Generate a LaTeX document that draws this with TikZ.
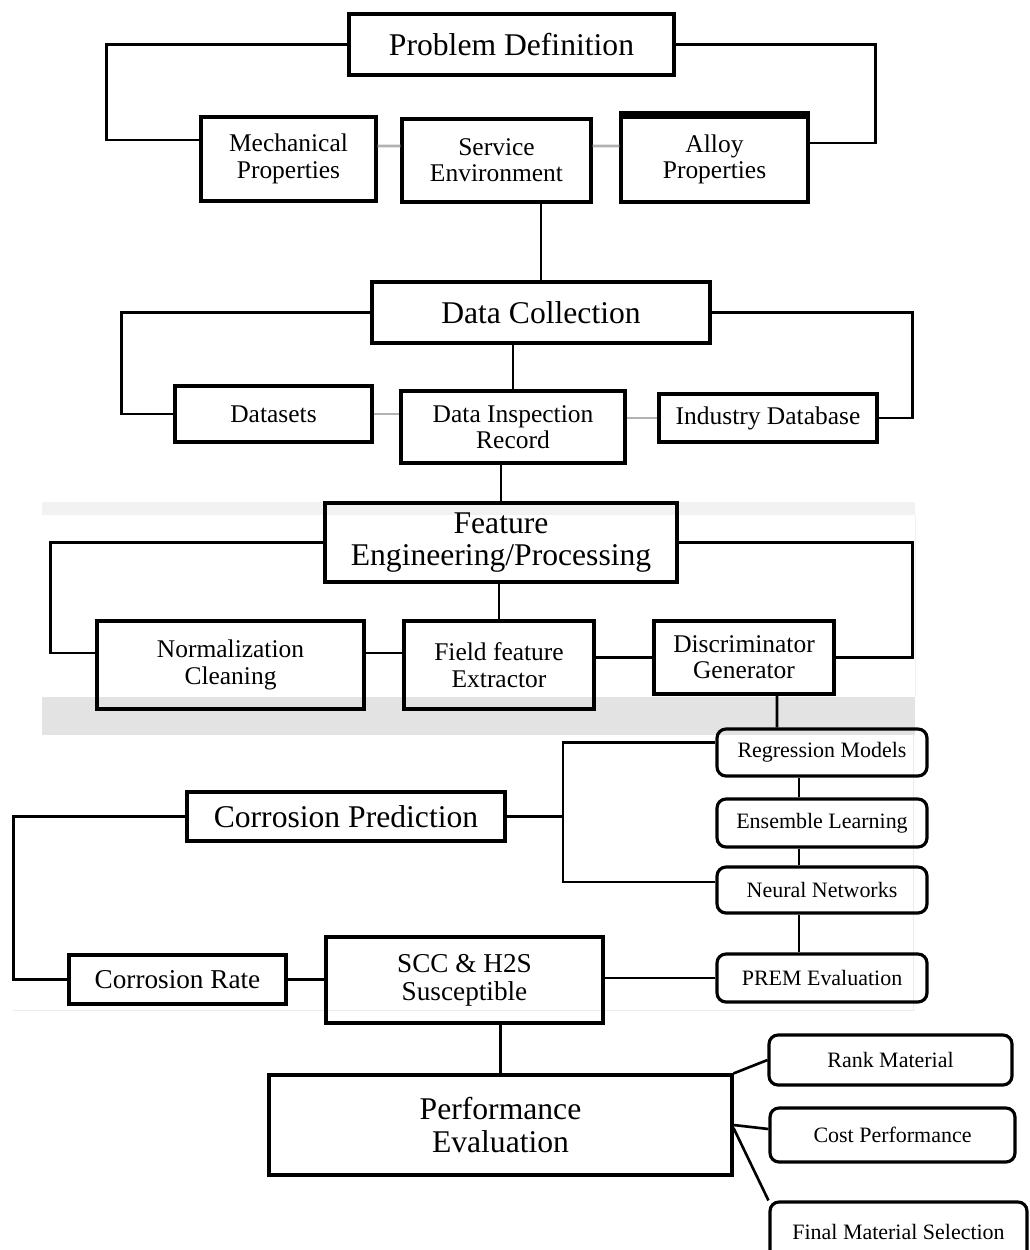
\documentclass[tikz,border=0pt]{standalone}
\usepackage{fontspec}
\setmainfont{Liberation Serif}
\tikzset{
  blk/.style={draw, line width=1.8pt, inner sep=0pt, align=center},
  bigtxt/.style={blk, font=\fontsize{18}{18.5}\selectfont},
  midtxt/.style={blk, font=\fontsize{14.5}{15}\selectfont},
  smalltxt/.style={blk, rounded corners=0.18cm, font=\fontsize{12.5}{12}\selectfont},
  link/.style={line width=1.5pt},
  faint/.style={line width=1.5pt, black!30},
}

\begin{document}
\begin{tikzpicture}[x=0.02cm, y=-0.02cm] % {{{
\useasboundingbox (0,0) rectangle (1029,1250);
% background bands {{{
\fill[black!5] (42,502) rectangle (915,515);
\fill[black!11] (42,697) rectangle (915,735);
\draw[black!6] (915,515) -- (915,697);
\draw[black!8] (13,1010) -- (913,1010) -- (913,735);
% }}}
% Problem definition {{{
\node[bigtxt, minimum width=6.5cm, minimum height=1.22cm] (prob) at (511.5,44.5) {Problem Definition};
\node[midtxt, minimum width=3.5cm, minimum height=1.68cm] (mech) at (288.5,159) {Mechanical\\Properties};
\node[midtxt, minimum width=3.78cm, minimum height=1.66cm] (serv) at (496.5,160.5) {Service\\Environment};
\node[midtxt, minimum width=3.74cm, minimum height=1.7cm] (alloy) at (714.5,159.5) {Alloy\\Properties};
\draw[line width=3.5pt] ([yshift=1pt]alloy.north west) -- ([yshift=1pt]alloy.north east);
\draw[link] (prob.west) -- ++(-241,0) |- ([yshift=0.38cm]mech.west);
\draw[link] (prob.east) -- ++(200,0) |- ([yshift=0.33cm]alloy.east);
\draw[faint] ([yshift=0.26cm]mech.east) -- ([yshift=0.29cm]serv.west);
\draw[faint] ([yshift=0.29cm]serv.east) -- ([yshift=0.27cm]alloy.west);
% }}}
% Data collection {{{
\node[bigtxt, minimum width=6.76cm, minimum height=1.22cm] (dc) at (541,312.5) {Data Collection};
\node[midtxt, minimum width=3.94cm, minimum height=1.12cm] (data) at (273.5,414) {Datasets};
\node[midtxt, minimum width=4.48cm, minimum height=1.44cm] (dir) at (513,427) {Data Inspection\\Record};
\node[midtxt, minimum width=4.36cm, minimum height=0.96cm] (indb) at (768,418) {Industry Database};
\draw[link] (dc.north |- serv.south) -- (dc.north);
\draw[link] (dc.west) -- ++(-249,0) |- (data.west);
\draw[link] (dc.east) -- ++(201,0) |- (indb.east);
\draw[link] (dc.south -| dir.north) -- (dir.north);
\draw[faint] (data.east) -- (data.east -| dir.west);
\draw[faint] (indb.west -| dir.east) -- (indb.west);
% }}}
% Feature engineering {{{
\node[bigtxt, minimum width=7.04cm, minimum height=1.58cm] (fe) at (501,542.5) {Feature\\Engineering/Processing};
\node[midtxt, minimum width=5.34cm, minimum height=1.76cm] (norm) at (230.5,665) {Normalization\\Cleaning};
\node[midtxt, minimum width=3.8cm, minimum height=1.76cm] (ffe) at (499,665) {Field feature\\Extractor};
\node[midtxt, minimum width=3.6cm, minimum height=1.46cm] (dg) at (744,657.5) {Discriminator\\Generator};
\draw[link] (fe.north |- dir.south) -- (fe.north);
\draw[link] (fe.west) -- ++(-273,0) |- ([yshift=0.24cm]norm.west);
\draw[link] (fe.east) -- ++(234,0) |- (dg.east);
\draw[link] (ffe.north) -- (ffe.north |- fe.south);
\draw[link] ([yshift=0.24cm]norm.east) -- ([yshift=0.24cm]ffe.west);
\draw[link] (dg.west -| ffe.east) -- (dg.west);
% }}}
% Corrosion prediction {{{
\node[smalltxt, minimum width=4.2cm, minimum height=0.94cm] (reg) at (822,752.5) {Regression Models};
\node[smalltxt, minimum width=4.2cm, minimum height=0.96cm] (ens) at (822,823) {Ensemble Learning};
\node[smalltxt, minimum width=4.2cm, minimum height=0.92cm] (nn) at (822,890) {Neural Networks};
\node[smalltxt, minimum width=4.2cm, minimum height=0.96cm] (prem) at (822,978) {PREM Evaluation};
\node[bigtxt, minimum width=6.36cm, minimum height=0.98cm] (cp) at (346,816.5) {Corrosion Prediction};
\node[midtxt, font=\fontsize{15.5}{16}\selectfont, minimum width=4.34cm, minimum height=0.98cm] (cr) at (177.5,979.5) {Corrosion Rate};
\node[midtxt, font=\fontsize{15.5}{16}\selectfont, minimum width=5.54cm, minimum height=1.72cm] (scc) at (464.5,980) {SCC \& H2S\\Susceptible};
\coordinate (fork) at (563,816.5);
\draw[link] ([xshift=0.66cm]dg.south) -- ([xshift=-0.9cm]reg.north);
\draw[link] (cp.east) -- (fork);
\draw[link] ([yshift=0.2cm]reg.west) -| (fork) |- ([yshift=0.16cm]nn.west);
\draw[link] ([xshift=-0.46cm]reg.south) -- ([xshift=-0.46cm]ens.north);
\draw[link] ([xshift=-0.46cm]ens.south) -- ([xshift=-0.46cm]nn.north);
\draw[link] ([xshift=-0.46cm]nn.south) -- ([xshift=-0.46cm]prem.north);
\draw[link] (cp.west) -- ++(-172,0) |- (cr.west);
\draw[link] (cr.east) -- (cr.east -| scc.west);
\draw[link] (prem.west -| scc.east) -- (prem.west);
% }}}
% Performance evaluation {{{
\node[bigtxt, minimum width=9.26cm, minimum height=2cm] (pe) at (500.5,1125) {Performance\\Evaluation};
\node[smalltxt, minimum width=4.86cm, minimum height=1cm] (rank) at (890.5,1060) {Rank Material};
\node[smalltxt, minimum width=4.9cm, minimum height=1.08cm] (cost) at (892.5,1135) {Cost Performance};
\node[smalltxt, minimum width=5.14cm, minimum height=1.2cm] (fms) at (898.5,1232) {Final Material Selection};
\draw[link] (pe.north |- scc.south) -- (pe.north);
\draw[link] (pe.north east) -- (rank.west);
\draw[link] (pe.east) -- ([yshift=0.12cm]cost.west);
\draw[link] ([yshift=-0.06cm]pe.east) -- (fms.north west);
% }}}
\end{tikzpicture} % }}}
\end{document}
